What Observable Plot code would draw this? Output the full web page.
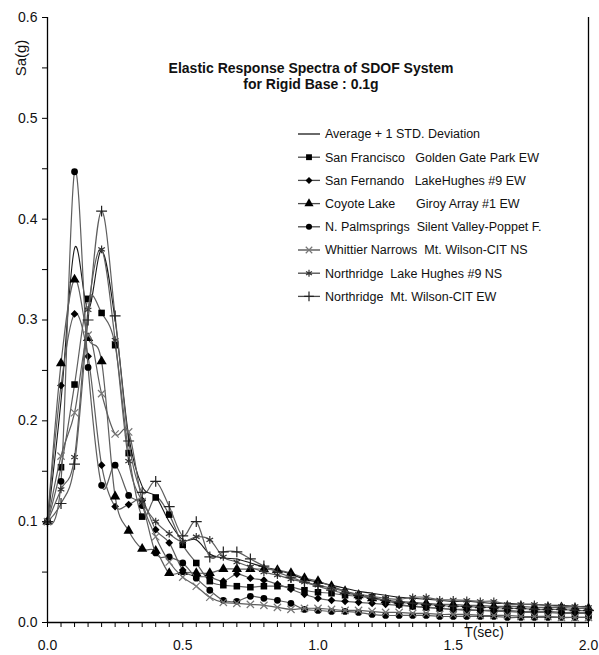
<!DOCTYPE html>
<html><head><meta charset="utf-8">
<script src="https://cdn.jsdelivr.net/npm/d3@7"></script>
<script src="https://cdn.jsdelivr.net/npm/@observablehq/plot@0.6"></script>
<style>
html,body{margin:0;padding:0;background:#fff;}
#chart svg{display:block;}
</style></head><body><div id="chart"></div>
<script>
const periods = [0,0.05,0.1,0.15,0.2,0.25,0.3,0.35,0.4,0.45,0.5,0.55,0.6,0.65,0.7,0.75,0.8,0.85,0.9,0.95,1.0,1.05,1.1,1.15,1.2,1.25,1.3,1.35,1.4,1.45,1.5,1.55,1.6,1.65,1.7,1.75,1.8,1.85,1.9,1.95,2.0];

const avgPlusStd = [0.1,0.22,0.371,0.31,0.369,0.30,0.185,0.135,0.125,0.10,0.082,0.082,0.068,0.064,0.063,0.059,0.055,0.052,0.048,0.043,0.040,0.037,0.034,0.031,0.029,0.027,0.025,0.024,0.023,0.022,0.021,0.021,0.020,0.019,0.019,0.018,0.018,0.017,0.017,0.016,0.016];
const sanFrancisco = [0.1,0.154,0.236,0.321,0.307,0.275,0.168,0.105,0.124,0.107,0.077,0.059,0.041,0.037,0.036,0.035,0.036,0.036,0.035,0.032,0.030,0.029,0.027,0.026,0.025,0.022,0.018,0.016,0.015,0.014,0.013,0.012,0.012,0.011,0.011,0.010,0.010,0.010,0.009,0.009,0.009];
const sanFernando = [0.1,0.235,0.306,0.264,0.156,0.115,0.117,0.121,0.092,0.079,0.052,0.046,0.045,0.041,0.048,0.044,0.042,0.038,0.033,0.028,0.024,0.022,0.021,0.020,0.019,0.018,0.017,0.016,0.015,0.014,0.013,0.013,0.012,0.012,0.012,0.011,0.011,0.011,0.010,0.010,0.010];
const coyoteLake = [0.1,0.257,0.340,0.282,0.259,0.125,0.091,0.073,0.071,0.049,0.050,0.049,0.049,0.053,0.053,0.053,0.053,0.052,0.049,0.044,0.041,0.036,0.031,0.027,0.024,0.022,0.021,0.020,0.019,0.018,0.018,0.017,0.017,0.016,0.016,0.016,0.015,0.015,0.015,0.014,0.014];
const palmsprings = [0.1,0.140,0.447,0.253,0.136,0.156,0.126,0.116,0.069,0.065,0.059,0.044,0.032,0.022,0.021,0.026,0.024,0.022,0.019,0.013,0.012,0.011,0.011,0.010,0.008,0.007,0.007,0.007,0.007,0.006,0.006,0.006,0.006,0.006,0.005,0.005,0.005,0.005,0.005,0.005,0.005];
const whittier = [0.1,0.165,0.208,0.285,0.227,0.187,0.189,0.120,0.085,0.060,0.045,0.036,0.025,0.020,0.019,0.018,0.017,0.015,0.013,0.014,0.014,0.013,0.012,0.012,0.011,0.010,0.010,0.009,0.009,0.008,0.008,0.008,0.007,0.007,0.007,0.006,0.006,0.006,0.005,0.005,0.005];
const northridgeLH = [0.1,0.132,0.164,0.310,0.370,0.280,0.160,0.120,0.100,0.088,0.080,0.085,0.082,0.065,0.060,0.055,0.050,0.047,0.043,0.040,0.037,0.034,0.031,0.028,0.026,0.024,0.023,0.025,0.025,0.0225,0.0225,0.022,0.021,0.021,0.018,0.018,0.018,0.017,0.016,0.016,0.015];
const northridgeMW = [0.1,0.118,0.157,0.300,0.408,0.304,0.180,0.129,0.140,0.115,0.086,0.100,0.065,0.070,0.070,0.063,0.056,0.050,0.045,0.040,0.036,0.032,0.029,0.027,0.024,0.022,0.020,0.019,0.018,0.017,0.016,0.016,0.015,0.015,0.014,0.014,0.013,0.013,0.013,0.012,0.012];

const seriesLabels = [
  "Average + 1 STD. Deviation",
  "San Francisco   Golden Gate Park EW",
  "San Fernando   LakeHughes #9 EW",
  "Coyote Lake      Giroy Array #1 EW",
  "N. Palmsprings  Silent Valley-Poppet F.",
  "Whittier Narrows  Mt. Wilson-CIT NS",
  "Northridge  Lake Hughes #9 NS",
  "Northridge  Mt. Wilson-CIT EW"
];
const seriesValues = [avgPlusStd, sanFrancisco, sanFernando, coyoteLake, palmsprings, whittier, northridgeLH, northridgeMW];
const yTicks = [0,0.1,0.2,0.3,0.4,0.5,0.6];
const yMinorTicks = [0.05,0.15,0.25,0.35,0.45,0.55];
const xTickLabels = [0,0.5,1.0,1.5,2.0];
const titleLines = ["Elastic Response Spectra of SDOF System","for Rigid Base : 0.1g"];

// marker styles
const styles = [
  {symbol:null},
  {symbol:"square", r:3.7, fill:"#000", stroke:"none", rotate:0},
  {symbol:"square", r:3.1, fill:"#000", stroke:"none", rotate:45},
  {symbol:"triangle", r:3.8, fill:"#000", stroke:"none", rotate:0},
  {symbol:"circle", r:3.4, fill:"#000", stroke:"none", rotate:0},
  {symbol:"times", r:3.4, fill:"none", stroke:"#777", rotate:0},
  {symbol:"asterisk", r:3.6, fill:"none", stroke:"#333", rotate:0},
  {symbol:"plus", r:3.6, fill:"none", stroke:"#222", rotate:0}
];

const font = "'Liberation Sans', Arial, sans-serif";
const marks = [];
seriesValues.forEach((vals, k) => {
  const rows = periods.map((t, i) => ({t, v: vals[i], name: seriesLabels[k]}));
  marks.push(Plot.line(rows, {x:"t", y:"v", curve:"cardinal",
    stroke: k === 0 ? "#1a1a1a" : "#5e5e5e", strokeWidth: k === 0 ? 1.1 : 1.2}));
  const s = styles[k];
  if (s.symbol) {
    marks.push(Plot.dot(rows, {x:"t", y:"v", symbol: () => s.symbol, r: s.r,
      fill: s.fill, stroke: s.stroke, strokeWidth: 1.2, rotate: s.rotate}));
  }
});

const chart = Plot.plot({
  width: 599, height: 655,
  marginLeft: 47, marginRight: 11, marginTop: 17, marginBottom: 33,
  style: {fontFamily: font, fontSize: "14px", color: "#111", background: "#fff", overflow: "visible"},
  x: {domain: [0, 2], label: null},
  y: {domain: [0, 0.6], label: null},
  symbol: {type: "identity"},
  marks: [
    Plot.axisY(yTicks, {tickSize: 5, tickPadding: 5, tickFormat: d3.format(".1f"), fontSize: 14, label: null, stroke:"#000"}),
    Plot.axisY(yMinorTicks, {tickSize: 5, text: null, label: null, stroke:"#000"}),
    Plot.axisX(periods, {tickSize: 5, text: null, label: null, stroke:"#000"}),
    Plot.axisX(xTickLabels, {tickSize: 0, tickPadding: 18, tickFormat: d3.format(".1f"), fontSize: 14, label: null}),
    ...marks,
    Plot.ruleX([0], {stroke: "#000", strokeWidth: 1.3}),
    Plot.ruleX([2], {stroke: "#000", strokeWidth: 1.3}),
    Plot.ruleY([0], {stroke: "#000", strokeWidth: 1.3})
  ]
});
document.getElementById("chart").appendChild(chart);

// decorations: title, axis titles, legend
const svg = d3.select(chart);
const g = svg.append("g").attr("font-family", font).attr("fill", "#111");
titleLines.forEach((t, i) => {
  g.append("text").attr("x", 311).attr("y", 73 + i * 16).attr("text-anchor", "middle")
    .attr("font-size", 14).attr("font-weight", "bold").text(t);
});
g.append("text").attr("transform", "translate(26,58) rotate(-90)").attr("text-anchor", "middle")
  .attr("font-size", 15).text("Sa(g)");
g.append("text").attr("x", 484).attr("y", 637).attr("text-anchor", "middle")
  .attr("font-size", 14).text("T(sec)");

const legendX = 298, legendY = 134, legendStep = 23.2;
const symMap = {square: d3.symbolSquare, triangle: d3.symbolTriangle, circle: d3.symbolCircle,
  times: d3.symbolTimes, asterisk: d3.symbolAsterisk, plus: d3.symbolPlus};
seriesLabels.forEach((label, k) => {
  const y = legendY + k * legendStep;
  g.append("line").attr("x1", legendX).attr("x2", legendX + 22).attr("y1", y).attr("y2", y)
    .attr("stroke", k === 0 ? "#1a1a1a" : "#4a4a4a").attr("stroke-width", 1.3);
  const s = styles[k];
  if (s.symbol) {
    const size = Math.PI * s.r * s.r * 0.8;
    g.append("path").attr("d", d3.symbol(symMap[s.symbol], size)())
      .attr("transform", `translate(${legendX + 11},${y}) rotate(${s.rotate})`)
      .attr("fill", s.fill).attr("stroke", s.stroke === "none" ? null : s.stroke).attr("stroke-width", 1.2);
  }
  g.append("text").attr("x", legendX + 27).attr("y", y).attr("dy", "0.35em")
    .attr("text-anchor", "start")
    .attr("font-size", 12.5).style("white-space", "pre").attr("xml:space", "preserve").text(label);
});
</script>
</body></html>
